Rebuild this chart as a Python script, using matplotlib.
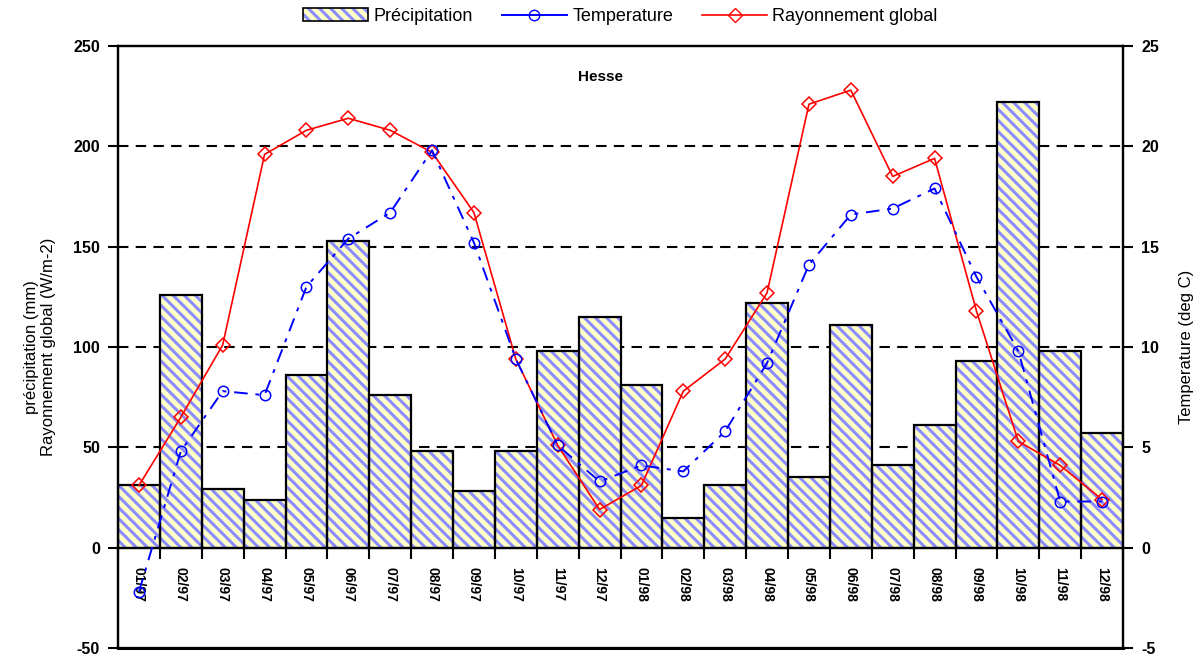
import matplotlib
matplotlib.use("Agg")
import matplotlib.pyplot as plt
import numpy as np
from matplotlib.patches import Patch
from matplotlib.lines import Line2D
from matplotlib.legend_handler import HandlerTuple

months = ["01/97", "02/97", "03/97", "04/97", "05/97", "06/97", "07/97", "08/97",
          "09/97", "10/97", "11/97", "12/97", "01/98", "02/98", "03/98", "04/98",
          "05/98", "06/98", "07/98", "08/98", "09/98", "10/98", "11/98", "12/98"]
precip = [31, 126, 29, 24, 86, 153, 76, 48, 28, 48, 98, 115,
          81, 15, 31, 122, 35, 111, 41, 61, 93, 222, 98, 57]
temperature = [-2.2, 4.8, 7.8, 7.6, 13.0, 15.4, 16.7, 19.8, 15.2, 9.4, 5.1, 3.3,
               4.1, 3.8, 5.8, 9.2, 14.1, 16.6, 16.9, 17.9, 13.5, 9.8, 2.3, 2.3]
rayonnement = [31, 65, 101, 196, 208, 214, 208, 197, 167, 94, 51, 19,
               31, 78, 94, 127, 221, 228, 185, 194, 118, 53, 41, 24]

plt.rcParams['font.family'] = ['Liberation Sans', 'DejaVu Sans']
plt.rcParams['hatch.linewidth'] = 2.2
plt.rcParams['axes.unicode_minus'] = False

HATCH_FACE = '#ffffc8'
HATCH_LINE = '#8c8cff'

fig = plt.figure(figsize=(12.03, 6.66), dpi=100)
ax = fig.add_axes([118/1203, 1-648/666, (1123-118)/1203, (648-46)/666])
ax2 = ax.twinx()

x = np.arange(len(months))
ax.set_xlim(-0.5, len(months)-0.5)
ax.set_ylim(-50, 250)
ax2.set_ylim(-5, 25)

# grid lines
for g in [50, 100, 150, 200]:
    ax.axhline(g, color='black', lw=1.5, ls=(0, (5, 3.5)), zorder=1)

# bars: hatch layer then black outline
ax.bar(x, precip, width=1.0, facecolor=HATCH_FACE, edgecolor=HATCH_LINE,
       hatch='\\\\\\', linewidth=0, zorder=2)
ax.bar(x, precip, width=1.0, fill=False, edgecolor='black', linewidth=1.6, zorder=3)

ln_r, = ax.plot(x, rayonnement, color='red', lw=1.2, marker='D', markersize=7,
                markerfacecolor='none', markeredgecolor='red', markeredgewidth=1.1, zorder=5)
ln_t, = ax2.plot(x, temperature, color='blue', lw=1.4, ls=(0, (7, 4, 2, 4)), marker='o',
                 markersize=7.5, markerfacecolor='none', markeredgecolor='blue',
                 markeredgewidth=1.1, zorder=5, clip_on=False)

# x axis at zero
ax.spines['bottom'].set_position(('data', 0))
ax.spines['bottom'].set_linewidth(1.6)
ax.axhline(-50, color='black', lw=2.2, clip_on=False, zorder=6)
for s in ['left', 'right', 'top']:
    ax.spines[s].set_linewidth(1.6)
for s in ax2.spines.values():
    s.set_linewidth(1.6)

ax.set_xticks(x)
ax.set_xticklabels(months, rotation=270, fontsize=10, fontweight='bold')
ax.tick_params(axis='x', which='major', length=0, pad=14)
ax.set_xticks(np.arange(-0.5, len(months)), minor=True)
ax.tick_params(axis='x', which='minor', length=8, width=1.5, direction='out')

ax.set_yticks(np.arange(-50, 251, 50))
ax.tick_params(axis='y', length=7, width=1.5, labelsize=11.5, pad=6)
for lab in ax.get_yticklabels():
    lab.set_fontweight('bold')
ax2.set_yticks(np.arange(-5, 26, 5))
ax2.tick_params(axis='y', length=7, width=1.5, labelsize=11.5, pad=6)
for lab in ax2.get_yticklabels():
    lab.set_fontweight('bold')

ax.set_ylabel("précipitation (mm)\nRayonnement global (W/m-2)", fontsize=12, labelpad=12)
ax2.set_ylabel("Temperature (deg C)", fontsize=12, labelpad=14)

ax.text(0.48, 0.948, "Hesse", transform=ax.transAxes, ha='center', va='center',
        fontsize=11, fontweight='bold')

bar_h = (Patch(facecolor=HATCH_FACE, edgecolor=HATCH_LINE, hatch='\\\\\\', linewidth=0),
         Patch(fill=False, edgecolor='black', linewidth=1.2))
t_h = Line2D([], [], color='blue', lw=1.4, marker='o', markersize=7.5,
             markerfacecolor='none', markeredgecolor='blue')
r_h = Line2D([], [], color='red', lw=1.2, marker='D', markersize=7,
             markerfacecolor='none', markeredgecolor='red')
leg = ax2.legend([bar_h, t_h, r_h], ["Précipitation", "Temperature", "Rayonnement global"],
                 handler_map={tuple: HandlerTuple(ndivide=1, pad=0)},
                 loc='lower center', bbox_to_anchor=(0.5, 1.02), ncol=3, frameon=False,
                 fontsize=13, handlelength=3.6, columnspacing=1.6, handletextpad=0.3,
                 borderaxespad=0.1)

fig.savefig("out.png", dpi=100)
